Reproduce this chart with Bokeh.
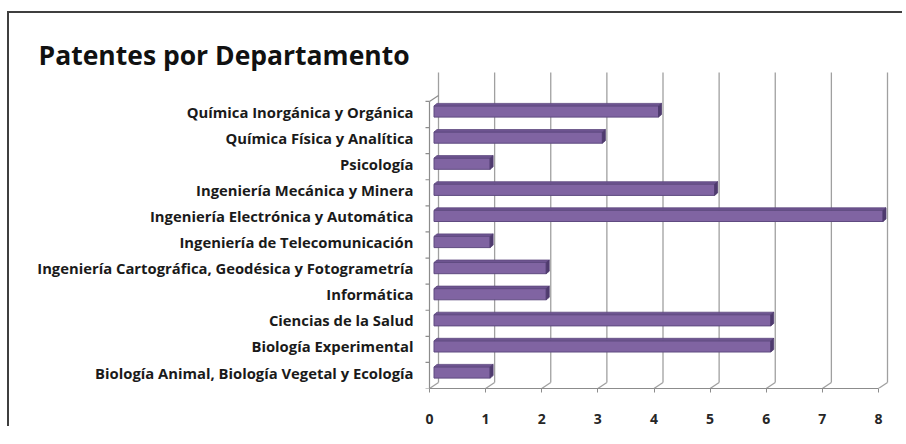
from bokeh.plotting import figure
from bokeh.models import Range1d, FixedTicker, ColumnDataSource
from bokeh.embed import file_html
from bokeh.resources import INLINE

# ---- data (top to bottom as shown) ----
departamentos = [
    "Química Inorgánica y Orgánica",
    "Química Física y Analítica",
    "Psicología",
    "Ingeniería Mecánica y Minera",
    "Ingeniería Electrónica y Automática",
    "Ingeniería de Telecomunicación",
    "Ingeniería Cartográfica, Geodésica y Fotogrametría",
    "Informática",
    "Ciencias de la Salud",
    "Biología Experimental",
    "Biología Animal, Biología Vegetal y Ecología",
]
patentes = [4, 3, 1, 5, 8, 1, 2, 2, 6, 6, 1]
x_ticks = [0, 1, 2, 3, 4, 5, 6, 7, 8]
titulo = "Patentes por Departamento"

n = len(departamentos)
ypos = [n - 1 - i for i in range(n)]

# ---- geometry helpers (pixels -> data units) ----
SX = 56.125   # px per unit on x
SY = 26.1     # px per unit on y
def px(v):
    return v / SX
def py(v):
    return v / SY

FONT = "Open Sans"
W, H = 895, 415
ML, MR, MT, MB = 412, 14, 55, 40

p = figure(width=W, height=H, output_backend="svg", toolbar_location=None,
           x_range=Range1d(-px(8), px(461)),
           y_range=Range1d(-py(16), py(304)),
           min_border_left=ML, min_border_right=MR,
           min_border_top=MT, min_border_bottom=MB,
           title=titulo)
p.styles = {"margin-left": "7px", "margin-top": "11px",
            "border-left": "2px solid #3f3f3f", "border-top": "2px solid #3f3f3f"}
p.outline_line_color = None
p.background_fill_color = "white"
p.border_fill_color = "white"
p.xgrid.visible = False
p.ygrid.visible = False

p.title.align = "left"
p.title.offset = -383
p.title.standoff = -8
p.title.text_font = FONT
p.title.text_font_style = "bold"
p.title.text_font_size = "26.5px"
p.title.text_color = "#111111"

# 3D frame: back wall gridlines, floor diagonals, left wall
back_dx, back_dy = px(9), py(6)
front_bottom = -py(16)
back_bottom = front_bottom + back_dy
top_y = py(300)
p.segment(x0=[t + back_dx for t in x_ticks], y0=[back_bottom] * len(x_ticks),
          x1=[t + back_dx for t in x_ticks], y1=[top_y] * len(x_ticks),
          line_color="#a0a0a0", line_width=1.3)
p.segment(x0=x_ticks, y0=[front_bottom] * len(x_ticks),
          x1=[t + back_dx for t in x_ticks], y1=[back_bottom] * len(x_ticks),
          line_color="#a0a0a0", line_width=1.3)
left_top = n - 0.5 - py(3)
p.segment(x0=[0], y0=[front_bottom], x1=[0], y1=[left_top],
          line_color="#8c8c8c", line_width=1.2)
p.segment(x0=[0], y0=[left_top], x1=[back_dx], y1=[left_top + back_dy],
          line_color="#8c8c8c", line_width=1.2)
bounds = [k - 0.5 - py(3) for k in range(n + 1)]
p.segment(x0=[-px(4)] * len(bounds), y0=bounds, x1=[0] * len(bounds), y1=bounds,
          line_color="#8c8c8c", line_width=1.2)

# bars (mid depth)
off = px(4.5)
hh = py(5.6)
src = ColumnDataSource(dict(y=ypos, left=[off] * n, right=[v + off for v in patentes]))
p.hbar(y="y", left="left", right="right", height=2 * hh, source=src,
       fill_color="#8064a2", line_color="#5f4a80", line_width=1)
sdx, sdy = px(3), py(2.5)
side_xs, side_ys, top_xs, top_ys = [], [], [], []
for yv, v in zip(ypos, patentes):
    r = v + off
    side_xs.append([r, r, r + sdx, r + sdx])
    side_ys.append([yv - hh, yv + hh, yv + hh + sdy, yv - hh + sdy])
    top_xs.append([off, r, r + sdx, off + sdx])
    top_ys.append([yv + hh, yv + hh, yv + hh + sdy, yv + hh + sdy])
p.patches(xs=top_xs, ys=top_ys, fill_color="#6d5490", line_color="#5f4a80", line_width=0.8)
p.patches(xs=side_xs, ys=side_ys, fill_color="#4f3b6e", line_color="#4f3b6e", line_width=0.8)

# axes
p.xaxis.ticker = FixedTicker(ticks=x_ticks)
p.xaxis.bounds = (0, 8)
p.xaxis.axis_line_color = "#8c8c8c"
p.xaxis.axis_line_width = 1.2
p.xaxis.major_tick_line_color = "#8c8c8c"
p.xaxis.major_tick_out = 4
p.xaxis.major_tick_in = 0
p.xaxis.minor_tick_line_color = None
p.xaxis.major_label_standoff = 21
p.xaxis.major_label_text_font = FONT
p.xaxis.major_label_text_font_style = "bold"
p.xaxis.major_label_text_font_size = "14px"
p.xaxis.major_label_text_color = "#262626"

p.yaxis.ticker = FixedTicker(ticks=ypos)
p.yaxis.major_label_overrides = {yv: name for yv, name in zip(ypos, departamentos)}
p.yaxis.axis_line_color = None
p.yaxis.major_tick_line_color = None
p.yaxis.minor_tick_line_color = None
p.yaxis.major_tick_out = 0
p.yaxis.major_tick_in = 0
p.yaxis.major_label_standoff = 8
p.yaxis.major_label_text_font = FONT
p.yaxis.major_label_text_font_style = "bold"
p.yaxis.major_label_text_font_size = "14.8px"
p.yaxis.major_label_text_color = "#1a1a1a"

open("out.html", "w").write(file_html(p, INLINE))
